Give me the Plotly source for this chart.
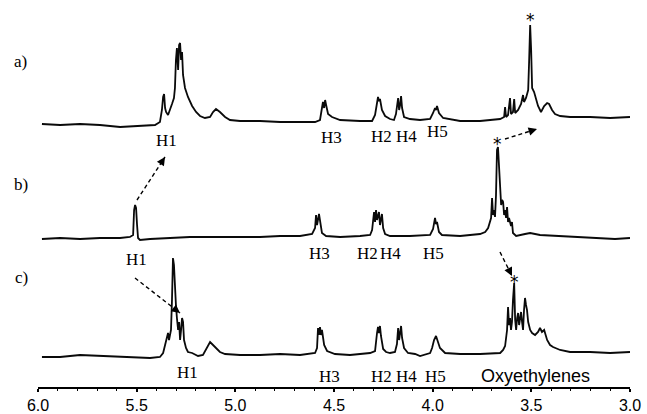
import plotly.graph_objects as go

# ---------------- data (chemical shift in ppm, intensity in arbitrary units) ----------------
a_ppm = [5.980, 5.888, 5.787, 5.686, 5.584, 5.483, 5.407, 5.382, 5.372, 5.366, 5.361, 5.356, 5.351, 5.341,
         5.331, 5.321, 5.311, 5.306, 5.301, 5.296, 5.290, 5.285, 5.280, 5.275, 5.270, 5.265, 5.255, 5.240,
         5.219, 5.199, 5.179, 5.154, 5.128, 5.113, 5.098, 5.078, 5.052, 5.027, 4.976, 4.875, 4.773, 4.672,
         4.596, 4.571, 4.561, 4.556, 4.550, 4.545, 4.540, 4.530, 4.510, 4.469, 4.368, 4.307, 4.292, 4.282,
         4.277, 4.272, 4.267, 4.257, 4.241, 4.216, 4.196, 4.186, 4.175, 4.170, 4.165, 4.160, 4.155, 4.145,
         4.115, 4.064, 4.013, 3.998, 3.988, 3.983, 3.978, 3.968, 3.947, 3.861, 3.760, 3.658, 3.638, 3.633,
         3.628, 3.618, 3.608, 3.603, 3.593, 3.587, 3.582, 3.567, 3.552, 3.542, 3.537, 3.527, 3.516, 3.511,
         3.506, 3.501, 3.496, 3.486, 3.476, 3.466, 3.451, 3.435, 3.420, 3.410, 3.395, 3.380, 3.354, 3.304,
         3.202, 3.101, 3.000]
a_int = [1, 0, 1, 0, -2, -1, 0, 3, 15, 28, 31, 17, 13, 10,
         15, 21, 27, 37, 65, 77, 55, 80, 82, 65, 73, 50, 37, 28,
         19, 13, 9, 7, 8, 13, 16, 13, 8, 5, 4, 4, 3, 3,
         3, 5, 15, 23, 17, 25, 20, 11, 8, 5, 4, 4, 10, 25,
         28, 24, 26, 15, 9, 6, 5, 11, 27, 15, 20, 29, 17, 8,
         6, 5, 6, 12, 17, 15, 19, 12, 7, 4, 4, 6, 8, 18,
         8, 10, 27, 11, 13, 26, 12, 15, 21, 30, 23, 27, 35, 65,
         100, 75, 37, 33, 25, 19, 13, 19, 22, 21, 15, 11, 9, 8,
         8, 7, 8]

b_ppm = [5.980, 5.888, 5.787, 5.686, 5.584, 5.534, 5.518, 5.513, 5.508, 5.503, 5.498, 5.493, 5.483, 5.432,
         5.331, 5.230, 5.128, 4.976, 4.875, 4.773, 4.672, 4.611, 4.596, 4.591, 4.586, 4.576, 4.571, 4.561,
         4.540, 4.469, 4.368, 4.317, 4.307, 4.297, 4.292, 4.287, 4.282, 4.272, 4.267, 4.257, 4.251, 4.241,
         4.216, 4.115, 4.013, 3.998, 3.988, 3.983, 3.978, 3.968, 3.953, 3.861, 3.760, 3.734, 3.719, 3.709,
         3.704, 3.699, 3.694, 3.688, 3.684, 3.679, 3.674, 3.669, 3.664, 3.658, 3.653, 3.648, 3.643, 3.638,
         3.633, 3.628, 3.623, 3.618, 3.613, 3.603, 3.598, 3.593, 3.577, 3.532, 3.506, 3.456, 3.354, 3.253,
         3.152, 3.076, 3.000]
b_int = [-1, 0, -1, 0, 0, 1, 3, 28, 33, 30, 13, 0, -2, -1,
         0, 1, 1, 1, 1, 2, 2, 4, 10, 23, 13, 24, 16, 5,
         2, 1, 2, 3, 8, 26, 16, 28, 18, 26, 13, 24, 10, 4,
         2, 2, 3, 9, 20, 14, 16, 6, 3, 2, 4, 6, 10, 16,
         20, 40, 23, 28, 21, 43, 88, 91, 68, 48, 33, 38, 36, 23,
         28, 20, 31, 16, 20, 12, 16, 5, 2, 4, 5, 3, 2, 1,
         0, -1, 0]

c_ppm = [5.980, 5.888, 5.787, 5.686, 5.584, 5.483, 5.432, 5.382, 5.366, 5.356, 5.346, 5.341, 5.336, 5.326,
         5.321, 5.316, 5.311, 5.306, 5.301, 5.296, 5.290, 5.285, 5.280, 5.275, 5.270, 5.265, 5.260, 5.250,
         5.240, 5.219, 5.189, 5.164, 5.143, 5.128, 5.108, 5.078, 5.052, 4.976, 4.875, 4.773, 4.672, 4.596,
         4.586, 4.581, 4.576, 4.571, 4.566, 4.561, 4.550, 4.535, 4.495, 4.419, 4.317, 4.292, 4.282, 4.277,
         4.272, 4.267, 4.262, 4.251, 4.236, 4.216, 4.191, 4.181, 4.175, 4.170, 4.160, 4.155, 4.145, 4.125,
         4.089, 4.064, 4.013, 4.003, 3.993, 3.983, 3.973, 3.963, 3.937, 3.861, 3.760, 3.658, 3.643, 3.633,
         3.623, 3.618, 3.613, 3.608, 3.603, 3.598, 3.593, 3.587, 3.582, 3.577, 3.572, 3.567, 3.562, 3.557,
         3.552, 3.547, 3.542, 3.537, 3.532, 3.527, 3.522, 3.516, 3.506, 3.496, 3.481, 3.466, 3.456, 3.446,
         3.435, 3.420, 3.405, 3.390, 3.370, 3.354, 3.304, 3.202, 3.101, 3.000]
c_int = [0, 0, 2, 1, 0, -1, -1, 0, 4, 12, 19, 24, 17, 27,
         57, 99, 92, 67, 52, 39, 27, 35, 17, 27, 39, 35, 17, 9,
         5, 4, 1, 2, 9, 15, 11, 5, 3, 2, 2, 3, 2, 4,
         9, 29, 22, 30, 22, 27, 12, 6, 3, 2, 4, 6, 24, 30,
         24, 31, 21, 8, 5, 4, 5, 13, 29, 17, 31, 19, 9, 4,
         3, 1, 4, 9, 17, 21, 15, 9, 4, 3, 3, 4, 7, 11,
         27, 50, 32, 39, 27, 35, 57, 74, 37, 27, 39, 44, 32, 39,
         45, 35, 27, 47, 59, 52, 47, 35, 27, 24, 22, 25, 29, 25,
         27, 17, 12, 10, 8, 7, 5, 5, 4, 5]

x_ticks = [6.0, 5.5, 5.0, 4.5, 4.0, 3.5, 3.0]
x_tick_labels = ["6.0", "5.5", "5.0", "4.5", "4.0", "3.5", "3.0"]

# vertical stacking offsets of the three traces (layout)
OFFSETS = {"a": 262, "b": 149, "c": 30}

# ---------------- layout geometry helpers (pixel -> paper) ----------------
W, H = 647, 414
ML, MR, MT, MB = 38, 17, 0, 27
PW, PH = W - ML - MR, H - MT - MB


def px(x):
    return (x - ML) / PW


def py(y):
    return 1 - (y - MT) / PH


fig = go.Figure()
for ppm, inten, key in [(a_ppm, a_int, "a"), (b_ppm, b_int, "b"), (c_ppm, c_int, "c")]:
    fig.add_trace(go.Scatter(
        x=ppm, y=[v + OFFSETS[key] for v in inten], mode="lines",
        line=dict(color="#0a0a0a", width=1.8), hoverinfo="skip", showlegend=False))

serif = "Liberation Serif, Times New Roman, serif"
sans = "Liberation Sans, Arial, sans-serif"

annotations = []


def label(text, x, y, size=17, family=serif):
    annotations.append(dict(text=text, x=px(x), y=py(y), xref="paper", yref="paper",
                            showarrow=False, xanchor="center", yanchor="middle",
                            font=dict(family=family, size=size, color="black")))


# panel letters
label("a)", 20, 62)
label("b)", 21, 184)
label("c)", 21, 277)

# row a labels
label("H1", 166, 140)
label("H3", 331, 137)
label("H2", 381, 136)
label("H4", 406, 136)
label("H5", 437, 132)
# row b labels
label("H1", 136, 259)
label("H3", 319, 253)
label("H2", 367, 253)
label("H4", 390, 253)
label("H5", 433, 253)
# row c labels
label("H1", 187, 372)
label("H3", 329, 376)
label("H2", 381, 376)
label("H4", 406, 376)
label("H5", 435, 376)
label("Oxyethylenes", 535, 376, size=18, family=sans)

# stars
label("*", 530, 20, size=17, family="DejaVu Sans")
label("*", 497, 144, size=17, family="DejaVu Sans")
label("*", 514, 282, size=17, family="DejaVu Sans")

shapes = []


def dashed_arrow(x0, y0, x1, y1):
    shapes.append(dict(type="line", xref="paper", yref="paper",
                       x0=px(x0), y0=py(y0), x1=px(x1), y1=py(y1),
                       line=dict(color="black", width=1.4, dash="4px,3px")))
    dx, dy = x0 - x1, y0 - y1
    n = (dx * dx + dy * dy) ** 0.5
    annotations.append(dict(text="", x=px(x1), y=py(y1), xref="paper", yref="paper",
                            showarrow=True, arrowhead=2, arrowsize=1.2, arrowwidth=1.4,
                            arrowcolor="black", ax=dx / n * 9, ay=dy / n * 9, standoff=0))


dashed_arrow(137, 200, 165, 157)
dashed_arrow(505, 139, 537, 129)
dashed_arrow(500, 252, 512, 276)
dashed_arrow(135, 278, 180, 313)

fig.update_layout(
    width=W, height=H, autosize=False,
    margin=dict(l=ML, r=MR, t=MT, b=MB, pad=0),
    paper_bgcolor="white", plot_bgcolor="white",
    showlegend=False,
    annotations=annotations, shapes=shapes,
    xaxis=dict(range=[6.0, 3.0], showline=True, linecolor="black", linewidth=2,
               ticks="outside", ticklen=3, tickwidth=2, tickcolor="black",
               tickvals=x_ticks, ticktext=x_tick_labels,
               tickfont=dict(family=sans, size=16, color="black"),
               showgrid=False, zeroline=False,
               minor=dict(ticks="outside", ticklen=2, tickwidth=1, tickcolor="black", dtick=0.1)),
    yaxis=dict(range=[0, PH], visible=False, showgrid=False, zeroline=False),
)

fig.write_html("out.html", config={"displayModeBar": False},
               post_script="document.body.style.margin='0';document.body.style.padding='0';")
